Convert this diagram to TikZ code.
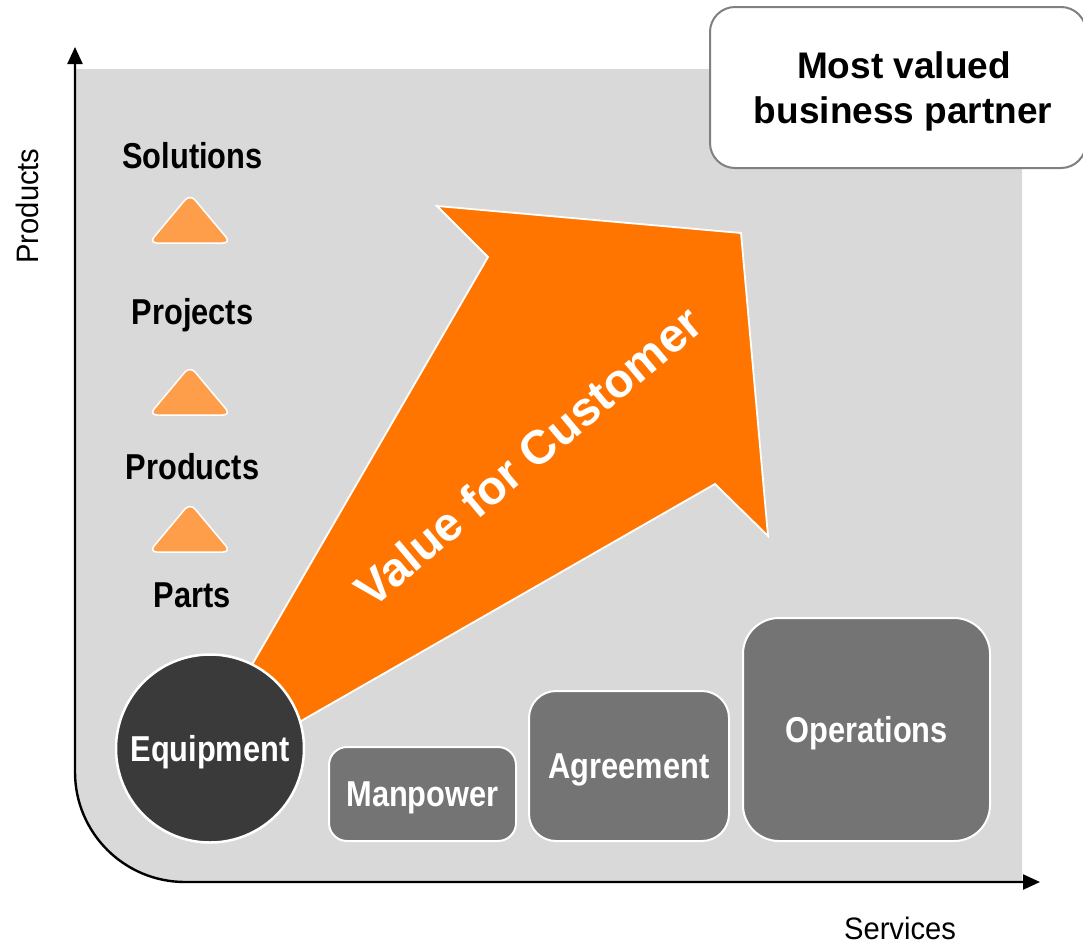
\documentclass[tikz,border=0pt]{standalone}
\usepackage{fontspec}
\setmainfont{Liberation Sans}
\newfontfamily\narrowfont[FakeStretch=0.855]{Liberation Sans}
\newfontfamily\axisfont[FakeStretch=0.94]{Liberation Sans}
\usetikzlibrary{arrows.meta}
\definecolor{bggray}{RGB}{217,217,217}
\definecolor{orangemain}{RGB}{255,117,0}
\definecolor{orangelight}{RGB}{255,158,74}
\definecolor{darkcirc}{RGB}{58,58,58}
\definecolor{boxgray}{RGB}{116,116,116}
\definecolor{bordergray}{RGB}{128,128,128}
\tikzset{
  lab/.style={font=\narrowfont\bfseries\fontsize{36}{40}\selectfont, text height=25.8pt, text depth=0pt, inner sep=0pt},
  axlab/.style={font=\axisfont\fontsize{31}{36}\selectfont, text height=22.2pt, text depth=0pt, inner sep=0pt},
  svcbox/.style={lab, draw=white, line width=2pt, fill=boxgray, text=white},
  ttri/.style={fill=orangelight, draw=white, line width=1.5pt, rounded corners=8pt},
  axisline/.style={line width=2.4pt, {Triangle[width=15pt,length=17pt]}-{Triangle[width=15pt,length=17pt]}},
  mvfont/.style={font=\bfseries\fontsize{37}{45}\selectfont, inner sep=0pt, anchor=base}
}
\begin{document}
\begin{tikzpicture}[x=1pt,y=-1pt]
\useasboundingbox (0,0) rectangle (1083,946);
% background panel
\fill[bggray] (75,69) -- (1022,69) -- (1022,882) -- (185,882) .. controls (124.25,882) and (75,832.75) .. (75,772) -- cycle;
% axes
\coordinate (ytip) at (75,47);
\coordinate (xtip) at (1040,882);
\draw[axisline] (ytip) -- (75,772) .. controls (75,832.75) and (124.25,882) .. (185,882) -- (xtip);
\node[axlab, rotate=90] (ylab) at (27,206) {Products};
\node[axlab] (xlab) at (900,928) {Services};
% big orange arrow
\coordinate (eqc) at (210,748.5);
\draw[fill=orangemain, draw=white, line width=1.8pt] (eqc) -- (253,663) -- (488,257) -- (437,206) -- (741,233) -- (768,536) -- (715,484) -- (301,721) -- cycle;
\node[rotate=40, font=\bfseries\fontsize{47.5}{52}\selectfont, text=white, text height=34pt, text depth=0pt, inner sep=0pt] (value) at (528,456) {Value for Customer};
% left ladder
\node[lab] (solutions) at (192.5,156) {Solutions};
\node[lab] (projects) at (192.5,312) {Projects};
\node[lab] (products) at (192.5,467) {Products};
\node[lab] (parts) at (192,595) {Parts};
\draw[ttri] (149,243) -- (190,194) -- (231,243) -- cycle;
\draw[ttri] (149,415) -- (190,366) -- (231,415) -- cycle;
\draw[ttri] (149,552) -- (190,503) -- (231,552) -- cycle;
% equipment circle
\node[lab, circle, fill=darkcirc, draw=white, line width=2.5pt, minimum size=188pt, text=white] (equip) at (eqc) {Equipment};
% service boxes
\node[svcbox, rounded corners=18pt, minimum width=187pt, minimum height=94pt] (man) at (422.5,794) {Manpower};
\node[svcbox, rounded corners=27pt, minimum width=200pt, minimum height=150pt] (agr) at (629,766) {Agreement};
\node[svcbox, rounded corners=36pt, minimum width=247pt, minimum height=223pt] (ops) at (866.5,729.5) {Operations};
% most valued box
\node[draw=bordergray, fill=white, line width=2pt, rounded corners=25pt, minimum width=376pt, minimum height=161pt, inner sep=0pt] (mvp) at (898,87.5) {};
\node[mvfont] (mv1) at (904,78.3) {Most valued};
\node[mvfont] (mv2) at (903,123.3) {business partner};
\end{tikzpicture}
\end{document}
